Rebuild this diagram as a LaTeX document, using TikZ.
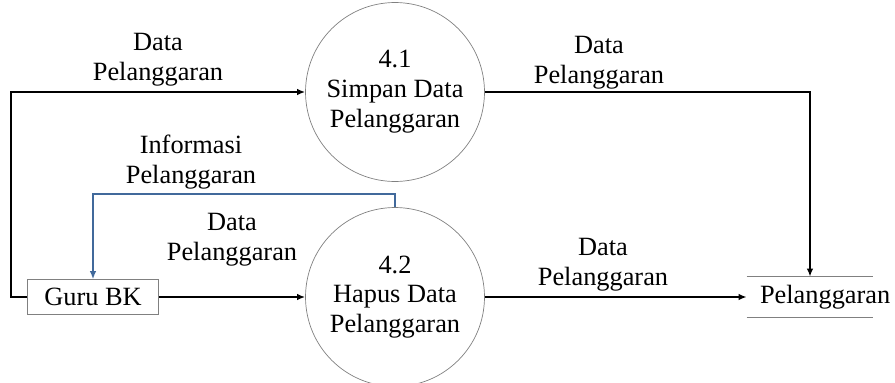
\documentclass[tikz,border=0pt]{standalone}
\usepackage{fontspec}
\setmainfont{Liberation Serif}
\usetikzlibrary{arrows.meta}
\definecolor{flowblue}{RGB}{65,105,155}
\tikzset{
  proc/.style={circle, draw=gray, minimum size=3.58cm, align=center, inner sep=0pt},
  entity/.style={draw=gray, minimum width=2.62cm, minimum height=0.7cm, inner sep=0pt},
  flow/.style={-{Latex[length=1.6mm,width=1.3mm]}, line width=0.9pt},
  lbl/.style={align=center},
}
\begin{document}
\begin{tikzpicture}[x=0.02cm, y=-0.02cm, font=\fontsize{15}{17}\selectfont]
\useasboundingbox (0,0) rectangle (895,382);
% processes
\node[proc] (simpan) at (395,92) {4.1\\Simpan Data\\Pelanggaran};
\node[proc] (hapus) at (395,297) {4.2\\Hapus Data\\Pelanggaran};
% entity
\node[entity] (guru) at (93,297) {Guru BK};
% data store
\node[minimum width=2.52cm, minimum height=0.8cm] (store) at (810,297) {};
\draw[gray] (store.north west) -- (store.north east);
\draw[gray] (store.south west) -- (store.south east);
\node[anchor=west, inner sep=0pt] (storetext) at ([xshift=0.26cm]store.west) {Pelanggaran};
% flows
\draw[flow] (guru.west) -- ++(-16,0) |- (simpan.west);
\draw[flow] (simpan.east) -| (store.north);
\draw[flow] (guru.east) -- (hapus.west);
\draw[flow] (hapus.east) -- (store.west);
\draw[flow, flowblue, line width=0.8pt] (hapus.north) -- ++(0,-13) -| (guru.north);
% labels
\node[lbl] (lbla) at (158,60) {Data\\Pelanggaran};
\node[lbl] (lblb) at (191,162) {Informasi\\Pelanggaran};
\node[lbl] (lblc) at (232,240) {Data\\Pelanggaran};
\node[lbl] (lbld) at (599,63) {Data\\Pelanggaran};
\node[lbl] (lble) at (603,265) {Data\\Pelanggaran};
\end{tikzpicture}
\end{document}
